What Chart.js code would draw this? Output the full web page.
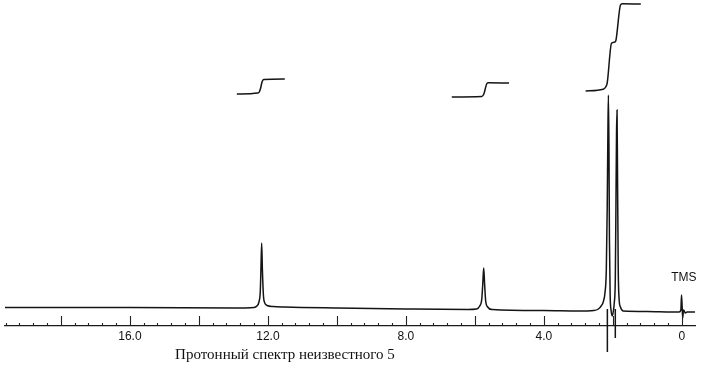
<!DOCTYPE html>
<html><head><meta charset="utf-8">
<script src="https://cdn.jsdelivr.net/npm/chart.js@4.4.1/dist/chart.umd.min.js"></script>
<style>
html,body{margin:0;padding:0;background:#fff;}
#wrap{position:relative;width:702px;height:368px;overflow:hidden;}
#caption{position:absolute;left:85px;width:400px;top:347px;text-align:center;font:15px/15px "Liberation Serif","DejaVu Serif",serif;color:#111;white-space:nowrap;}
</style></head><body>
<div id="wrap"><canvas id="c" width="702" height="368"></canvas><div id="caption">Протонный спектр неизвестного 5</div></div>
<script>
// ---- Data (chemical shift in ppm, signal height in arbitrary units) ----
const spectrumPpm = [19.62, 16.0, 13.0, 12.40, 12.32, 12.26, 12.22, 12.20, 12.18, 12.16, 12.13, 12.09, 12.02, 11.85, 11.5, 10.0, 8.0, 6.2,
  5.95, 5.86, 5.80, 5.77, 5.745, 5.72, 5.69, 5.63, 5.5, 4.0, 3.0, 2.55,
  2.42, 2.34, 2.28, 2.23, 2.19, 2.165, 2.145, 2.13, 2.115, 2.10, 2.08, 2.05, 2.02, 1.99,
  1.96, 1.93, 1.91, 1.895, 1.88, 1.865, 1.845, 1.82, 1.78, 1.70, 1.0, 0.3,
  0.08, 0.03, 0.01, -0.01, -0.025, -0.045, -0.07, -0.10, -0.15, -0.38];
const spectrumInt = [1.5, 1.5, 1, 1.5, 3, 7, 18, 42, 66, 40, 14, 6, 3.5, 2.5, 2, 1, 0, -0.5,
  0, 3, 10, 26, 41, 26, 9, 2, -0.5, -1.5, -2, -1.5,
  0, 3, 7, 16, 40, 100, 175, 214, 165, 70, 15, -2, -7, -3,
  6, 30, 110, 175, 199, 130, 40, 10, 2, -2, -2.5, -3,
  -3, -1, 14, 0, -9, -1, -2, -4, -3, -3];

// integral traces
const integral1Ppm = [12.9, 12.29, 12.25, 12.21, 12.17, 12.12, 11.51];
const integral1Val = [215, 216, 217, 221, 227, 229.5, 230];
const integral2Ppm = [6.67, 5.80, 5.74, 5.70, 5.66, 5.62, 5.01];
const integral2Val = [212, 212.5, 215, 220, 225, 226.3, 226];
const integral3Ppm = [2.79, 2.28, 2.21, 2.165, 2.04, 1.94, 1.91, 1.78, 1.73, 1.19];
const integral3Val = [218, 219.7, 222, 226, 265.7, 267, 269, 304, 305.3, 305];

// pen strokes running below the axis at the two large peaks
const strokePpm = [2.16, 1.93];
const strokeDepth = [-43, -29];

// axis
const labelValues = [0, 4, 8, 12, 16];
const labelTexts = ['0', '4.0', '8.0', '12.0', '16.0'];
const majorTickValues = [0, 2, 4, 6, 8, 10, 12, 14, 16, 18];
const minorTickStep = 0.4;
const tmsLabel = 'TMS';
const tmsPpm = 0;
const tmsLabelLevel = 28;

const pts = (xs, ys) => xs.map((x, i) => ({x, y: ys[i]}));
const ink = '#141414';

const datasets = [
  {data: pts(spectrumPpm, spectrumInt)},
  {data: pts(integral1Ppm, integral1Val)},
  {data: pts(integral2Ppm, integral2Val)},
  {data: pts(integral3Ppm, integral3Val)},
  ...strokePpm.map((p, i) => ({data: [{x: p, y: 0}, {x: p, y: strokeDepth[i]}], clip: false, cubicInterpolationMode: 'default'}))
].map(d => Object.assign({borderColor: ink, borderWidth: 1.5, pointRadius: 0, fill: false, cubicInterpolationMode: 'monotone'}, d));

const axisMarks = {
  id: 'axisMarks',
  afterDatasetsDraw(chart) {
    const {ctx, chartArea, scales: {x, y}} = chart;
    const yb = chartArea.bottom;
    ctx.save();
    ctx.strokeStyle = '#222';
    ctx.lineWidth = 1.1;
    ctx.beginPath();
    majorTickValues.forEach(v => {
      const px = Math.round(x.getPixelForValue(v)) + 0.5;
      ctx.moveTo(px, yb); ctx.lineTo(px, yb - 10);
    });
    for (let k = 1; k * minorTickStep < x.max; k++) {
      const v = k * minorTickStep;
      if (Math.abs(v / 2 - Math.round(v / 2)) < 1e-6) continue;
      const px = Math.round(x.getPixelForValue(v)) + 0.5;
      ctx.moveTo(px, yb); ctx.lineTo(px, yb - 3);
    }
    ctx.stroke();
    ctx.fillStyle = '#111';
    ctx.font = '12px "Liberation Sans", Arial, sans-serif';
    ctx.textAlign = 'center';
    ctx.textBaseline = 'alphabetic';
    ctx.fillText(tmsLabel, x.getPixelForValue(tmsPpm) + 2, y.getPixelForValue(tmsLabelLevel));
    ctx.restore();
  }
};

new Chart(document.getElementById('c'), {
  type: 'line',
  data: {datasets},
  plugins: [axisMarks],
  options: {
    responsive: false,
    animation: false,
    events: [],
    layout: {padding: {left: 5, right: 7, top: 0, bottom: 0}},
    plugins: {legend: {display: false}, tooltip: {enabled: false}, title: {display: false}},
    scales: {
      x: {
        type: 'linear', reverse: true, min: -0.38, max: 19.62,
        grid: {display: false, drawTicks: false},
        border: {display: true, color: '#1a1a1a', width: 1.3},
        afterBuildTicks: s => { s.ticks = labelValues.map(v => ({value: v})); },
        afterFit: s => { s.height = 42; s.paddingLeft = 0; s.paddingRight = 0; },
        ticks: {
          autoSkip: false, maxRotation: 0, padding: 3, color: '#111',
          font: {family: '"Liberation Sans", Arial, sans-serif', size: 12},
          callback: (v, i) => labelTexts[i]
        }
      },
      y: {type: 'linear', display: false, min: -17, max: 309}
    }
  }
});
</script>
</body></html>
